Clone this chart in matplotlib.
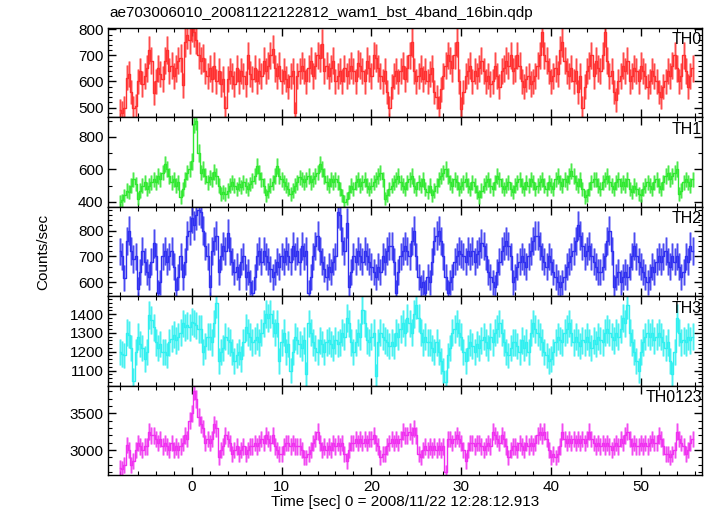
import numpy as np
import matplotlib
matplotlib.use('Agg')
import matplotlib.pyplot as plt
from matplotlib.ticker import MultipleLocator

plt.rcParams['font.family'] = ['Liberation Sans', 'DejaVu Sans']

# 0.25 s bins (16 x 1/64 s), bin centres from -8 s
t_start = -8.0
bin_width = 0.25

th0 = [
    490, 480, 500, 615, 630, 560, 500, 505, 600, 640, 590, 620, 650, 720, 680, 555,
    600, 650, 630, 610, 680, 720, 640, 660, 620, 650, 680, 690, 585, 750, 780, 760,
    810, 790, 760, 700, 680, 690, 640, 620, 650, 610, 660, 600, 640, 590, 610, 500,
    610, 640, 620, 590, 650, 600, 640, 620, 590, 700, 630, 610, 650, 600, 640, 620,
    680, 640, 660, 700, 725, 650, 620, 660, 600, 640, 610, 580, 620, 640, 478, 620,
    640, 660, 640, 600, 650, 680, 620, 660, 700, 690, 745, 640, 660, 620, 650, 680,
    600, 620, 640, 600, 650, 620, 640, 660, 640, 600, 670, 660, 640, 600, 680, 650,
    620, 700, 690, 650, 620, 600, 640, 560, 500, 580, 620, 640, 600, 640, 660, 610,
    650, 700, 750, 640, 600, 620, 650, 610, 640, 600, 630, 650, 560, 540, 500, 570,
    620, 660, 700, 680, 650, 700, 750, 600, 496, 560, 620, 640, 660, 600, 640, 620,
    650, 680, 640, 600, 620, 590, 600, 660, 620, 580, 640, 650, 680, 660, 700, 640,
    650, 700, 660, 600, 580, 610, 620, 590, 600, 620, 660, 700, 790, 700, 680, 640,
    600, 620, 650, 630, 720, 750, 680, 640, 620, 650, 600, 640, 560, 620, 500, 580,
    640, 660, 700, 620, 680, 650, 640, 700, 790, 680, 620, 640, 560, 530, 600, 620,
    660, 640, 680, 600, 620, 650, 640, 600, 660, 640, 620, 580, 600, 640, 620, 600,
    560, 540, 580, 600, 640, 620, 660, 700, 650, 600, 620, 700, 640, 580, 620, 650,
]

th1 = [
    400, 410, 440, 470, 460, 500, 538, 510, 420, 470, 500, 520, 480, 500, 520, 540,
    520, 560, 540, 580, 633, 600, 560, 520, 540, 500, 520, 430, 480, 540, 580, 600,
    650, 880, 900, 700, 580, 600, 560, 520, 550, 540, 583, 560, 500, 450, 460, 450,
    470, 500, 520, 500, 480, 510, 490, 520, 500, 480, 510, 530, 560, 620, 580, 540,
    500, 440, 470, 500, 520, 560, 620, 560, 540, 520, 500, 480, 450, 470, 500, 520,
    550, 540, 520, 540, 560, 520, 540, 560, 580, 633, 600, 560, 520, 500, 540, 520,
    540, 520, 480, 440, 400, 420, 460, 500, 480, 520, 540, 500, 520, 540, 500, 480,
    500, 520, 540, 560, 580, 540, 420, 440, 480, 500, 520, 540, 560, 520, 500, 480,
    520, 540, 560, 500, 480, 520, 500, 540, 480, 460, 500, 440, 470, 500, 540, 560,
    580, 600, 560, 520, 500, 540, 520, 480, 500, 520, 540, 500, 480, 520, 500, 460,
    430, 470, 500, 520, 540, 500, 480, 520, 560, 540, 500, 480, 500, 520, 480, 460,
    500, 520, 540, 500, 480, 520, 500, 540, 520, 480, 500, 520, 540, 500, 480, 520,
    500, 480, 540, 560, 520, 500, 540, 520, 560, 590, 560, 520, 500, 540, 480, 430,
    440, 480, 520, 540, 540, 500, 480, 520, 540, 560, 520, 500, 480, 520, 540, 500,
    520, 500, 540, 480, 460, 500, 480, 450, 440, 480, 500, 520, 500, 480, 520, 540,
    500, 480, 520, 560, 580, 540, 560, 580, 600, 450, 470, 520, 540, 520, 500, 540,
]

th2 = [
    719, 700, 617, 760, 800, 720, 690, 700, 573, 640, 720, 680, 640, 620, 680, 750,
    700, 560, 600, 700, 720, 680, 700, 720, 660, 570, 620, 700, 620, 680, 780, 800,
    850, 820, 860, 880, 870, 800, 740, 700, 580, 720, 760, 780, 640, 700, 740, 720,
    790, 720, 680, 640, 660, 620, 680, 700, 620, 640, 600, 560, 620, 700, 720, 680,
    720, 700, 680, 650, 620, 640, 680, 660, 700, 680, 720, 700, 680, 740, 700, 720,
    680, 740, 700, 720, 560, 620, 700, 740, 780, 720, 680, 650, 620, 660, 640, 680,
    700, 870, 860, 760, 720, 830, 580, 640, 700, 680, 720, 700, 680, 720, 700, 680,
    660, 640, 620, 660, 640, 700, 680, 720, 740, 740, 680, 560, 640, 700, 720, 740,
    720, 700, 760, 800, 700, 620, 580, 600, 560, 620, 600, 680, 760, 780, 800, 760,
    700, 620, 560, 600, 620, 680, 700, 720, 710, 700, 680, 720, 700, 720, 680, 710,
    720, 750, 740, 700, 640, 620, 600, 580, 640, 680, 720, 740, 760, 740, 700, 600,
    620, 660, 680, 700, 680, 660, 700, 720, 760, 780, 780, 740, 700, 680, 660, 700,
    680, 640, 620, 600, 580, 600, 620, 660, 680, 700, 720, 760, 820, 780, 740, 700,
    720, 740, 700, 680, 660, 640, 640, 660, 700, 760, 800, 720, 580, 620, 640, 600,
    620, 640, 620, 660, 700, 740, 700, 680, 660, 640, 620, 600, 620, 660, 640, 680,
    700, 680, 700, 720, 680, 660, 700, 680, 700, 660, 620, 640, 700, 680, 740, 720,
]

th3 = [
    1200, 1190, 1180, 1300, 1290, 1220, 1047, 1200, 1280, 1240, 1220, 1160, 1200, 1395, 1370, 1330,
    1250, 1220, 1240, 1200, 1200, 1180, 1250, 1270, 1290, 1260, 1280, 1300, 1350, 1330, 1340, 1330,
    1360, 1350, 1340, 1320, 1320, 1200, 1230, 1280, 1280, 1250, 1350, 1458, 1150, 1200, 1220, 1280,
    1260, 1250, 1200, 1150, 1180, 1200, 1160, 1250, 1330, 1300, 1280, 1250, 1260, 1280, 1250, 1300,
    1350, 1400, 1380, 1400, 1350, 1300, 1350, 1150, 1250, 1300, 1200, 1240, 1100, 1200, 1280, 1260,
    1240, 1220, 1260, 1080, 1350, 1300, 1250, 1220, 1200, 1260, 1240, 1200, 1250, 1260, 1240, 1220,
    1260, 1240, 1250, 1300, 1280, 1380, 1350, 1250, 1200, 1250, 1300, 1280, 1420, 1350, 1260, 1250,
    1280, 1300, 1070, 1250, 1300, 1280, 1260, 1250, 1230, 1250, 1230, 1300, 1280, 1320, 1350, 1300,
    1380, 1350, 1300, 1400, 1450, 1380, 1300, 1250, 1280, 1250, 1250, 1220, 1200, 1250, 1200, 1150,
    1100, 1040, 1180, 1220, 1300, 1320, 1350, 1300, 1280, 1200, 1150, 1220, 1250, 1230, 1200, 1240,
    1220, 1260, 1280, 1250, 1220, 1280, 1250, 1300, 1320, 1350, 1300, 1250, 1200, 1180, 1220, 1250,
    1250, 1230, 1200, 1260, 1220, 1250, 1200, 1300, 1350, 1320, 1300, 1280, 1250, 1200, 1180, 1150,
    1160, 1200, 1250, 1280, 1260, 1250, 1300, 1320, 1350, 1300, 1250, 1280, 1250, 1230, 1260, 1250,
    1280, 1250, 1220, 1260, 1240, 1280, 1260, 1250, 1300, 1320, 1300, 1280, 1260, 1300, 1280, 1320,
    1380, 1350, 1450, 1300, 1250, 1200, 1150, 1100, 1200, 1250, 1280, 1300, 1280, 1300, 1260, 1280,
    1300, 1280, 1250, 1220, 1250, 1150, 1080, 1200, 1380, 1300, 1250, 1260, 1250, 1280, 1260, 1280,
]

th0123 = [
    2760, 2750, 2800, 3068, 3000, 2800, 2850, 3000, 3100, 3050, 3000, 3050, 3050, 3250, 3200, 3200,
    3150, 3100, 3150, 3050, 3100, 3050, 3000, 3100, 3000, 3050, 3000, 3050, 3100, 3200, 3150, 3400,
    3500, 3800, 3700, 3450, 3350, 3300, 3100, 3150, 3100, 3150, 3350, 3300, 2900, 3000, 3050, 3200,
    3150, 3100, 2950, 3000, 3050, 2950, 3000, 3050, 2950, 3000, 3050, 3050, 3100, 3050, 3100, 3150,
    3100, 3200, 3150, 3100, 3200, 3050, 3000, 2950, 2950, 3050, 3100, 3100, 3050, 3100, 3050, 3050,
    3050, 3000, 2900, 2900, 2950, 3000, 3100, 3150, 3250, 3100, 3000, 3050, 3000, 3050, 3000, 3100,
    3050, 3100, 3050, 3100, 2950, 2850, 3000, 3100, 3100, 3150, 3100, 3150, 3100, 3150, 3100, 3150,
    3150, 3200, 3100, 3050, 2900, 2950, 2950, 3050, 3100, 3150, 3100, 3150, 3100, 3150, 3250, 3200,
    3200, 3250, 3200, 3300, 3200, 2950, 2900, 3000, 3050, 3000, 3050, 3000, 3050, 3000, 3050, 3000,
    3050, 2700, 3150, 3150, 3100, 3150, 3200, 3150, 3100, 3000, 2850, 3000, 3100, 3100, 3050, 3100,
    3100, 3050, 3000, 3050, 3100, 3050, 3250, 3200, 3150, 3100, 3200, 3150, 3050, 2900, 3000, 3050,
    3050, 3000, 3100, 3050, 3000, 3100, 3050, 3100, 3050, 3100, 3200, 3250, 3200, 3250, 3150, 3000,
    2900, 2950, 2900, 2950, 3050, 3250, 3150, 3100, 3150, 3100, 3150, 3100, 3150, 3100, 3150, 3100,
    3150, 3250, 3150, 3100, 3050, 3100, 3050, 3100, 3050, 3100, 3050, 3000, 3050, 3100, 3050, 3150,
    3100, 3200, 3250, 3150, 3050, 3100, 3050, 3050, 3100, 3050, 3100, 3050, 3100, 3150, 3100, 3100,
    3200, 3150, 3050, 2950, 2950, 2900, 2950, 3000, 3250, 3150, 3100, 3050, 2950, 3000, 3100, 3150,
]

names = ['TH0', 'TH1', 'TH2', 'TH3', 'TH0123']
colors = ['#ff3030', '#30e830', '#3030f0', '#30f0f0', '#f030f0']
ylims = [(462, 805), (370, 919), (546, 892), (1020, 1495), (2662, 3878)]
major = [100, 200, 100, 100, 500]
minor = [20, 100, 20, 20, 100]

series = [th0, th1, th2, th3, th0123]

fig, axes = plt.subplots(5, 1, sharex=True, figsize=(7.17, 5.16), dpi=100)
fig.subplots_adjust(left=0.151, right=0.979, top=0.9457, bottom=0.0795, hspace=0)

for ax, name, c, vals, yl, mj, mn in zip(axes, names, colors, series, ylims, major, minor):
    vals = np.array(vals, dtype=float)
    t = t_start + bin_width * np.arange(len(vals))
    err = 2.0 * np.sqrt(vals)  # counting errors for 0.25 s bins
    ax.errorbar(t, vals, yerr=err, fmt='none', ecolor=c, elinewidth=2.0, alpha=0.45)
    ax.errorbar(t, vals, yerr=err, fmt='none', ecolor=c, elinewidth=0.6, alpha=0.9)
    ax.step(t, vals, where='mid', color=c, lw=1.0)
    ax.set_ylim(*yl)
    ax.yaxis.set_major_locator(MultipleLocator(mj))
    ax.yaxis.set_minor_locator(MultipleLocator(mn))
    ax.xaxis.set_major_locator(MultipleLocator(10))
    ax.xaxis.set_minor_locator(MultipleLocator(2))
    ax.tick_params(which='both', direction='in', top=True, right=True, labelsize=11)
    ax.tick_params(which='major', length=6, width=1)
    ax.tick_params(which='minor', length=3, width=0.8)
    for s in ax.spines.values():
        s.set_linewidth(1)
    ax.text(1.0, 0.95, name, transform=ax.transAxes, ha='right', va='top', fontsize=11.5)

axes[0].set_xlim(-9.3, 56.8)
axes[-1].set_xlabel('Time [sec] 0 = 2008/11/22 12:28:12.913', fontsize=11, labelpad=1)
fig.text(0.06, 0.512, 'Counts/sec', rotation=90, ha='center', va='center', fontsize=11)
fig.text(0.153, 0.975, 'ae703006010_20081122122812_wam1_bst_4band_16bin.qdp',
         ha='left', va='center', fontsize=11)

fig.savefig('out.png', dpi=100)
